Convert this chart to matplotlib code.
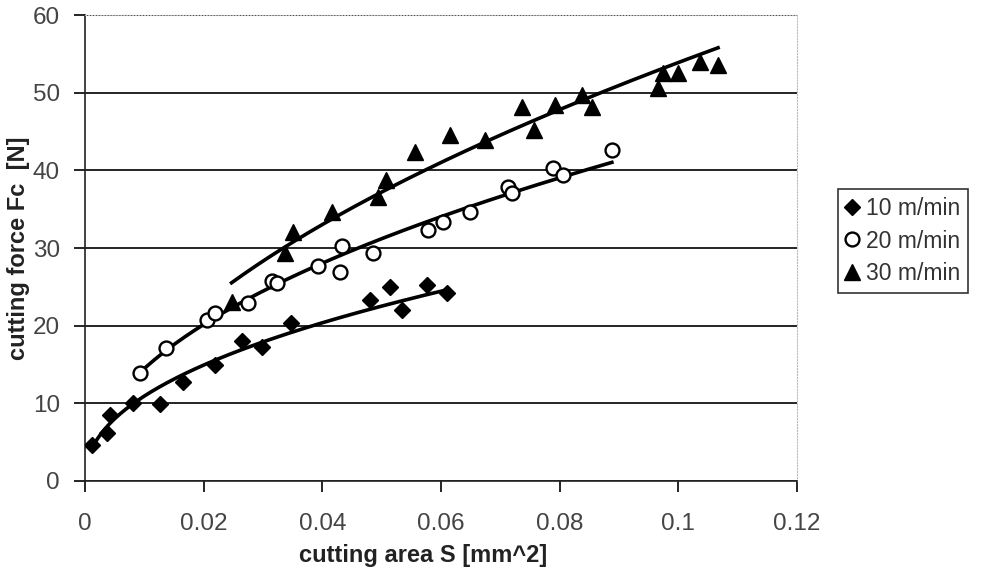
import numpy as np
import matplotlib
matplotlib.use("Agg")
import matplotlib.pyplot as plt

plt.rcParams['font.family'] = ['Liberation Sans', 'DejaVu Sans']

# cutting area S [mm^2] and cutting force Fc [N]
s_10 = [0.0012, 0.0037, 0.0042, 0.0081, 0.0126, 0.0165, 0.0219, 0.0265, 0.0298,
        0.0347, 0.0480, 0.0514, 0.0534, 0.0576, 0.0610]
f_10 = [4.6, 6.2, 8.5, 10.0, 9.9, 12.8, 14.9, 18.0, 17.2,
        20.3, 23.3, 25.0, 22.0, 25.2, 24.2]

s_20 = [0.0093, 0.0137, 0.0205, 0.0219, 0.0275, 0.0315, 0.0323, 0.0393, 0.0433,
        0.0430, 0.0486, 0.0578, 0.0604, 0.0649, 0.0713, 0.0719, 0.0789, 0.0806, 0.0888]
f_20 = [13.9, 17.1, 20.7, 21.6, 22.9, 25.7, 25.5, 27.7, 30.2,
        26.9, 29.3, 32.3, 33.4, 34.7, 37.9, 37.1, 40.3, 39.4, 42.6]

s_30 = [0.0247, 0.0337, 0.0350, 0.0416, 0.0494, 0.0508, 0.0556, 0.0615, 0.0674,
        0.0736, 0.0756, 0.0792, 0.0837, 0.0854, 0.0966, 0.0975, 0.1000, 0.1037, 0.1067]
f_30 = [23.0, 29.3, 32.1, 34.7, 36.6, 38.7, 42.4, 44.5, 43.9,
        48.2, 45.2, 48.4, 49.7, 48.2, 50.6, 52.5, 52.5, 54.0, 53.6]

labels = ['10 m/min', '20 m/min', '30 m/min']
markers = ['D', 'o', '^']

fig = plt.figure(figsize=(9.92, 5.67), dpi=100)
ax = fig.add_axes([0.0857, 0.1517, 0.7177, 0.8218])

for s, f, lab, m in zip([s_10, s_20, s_30], [f_10, f_20, f_30], labels, markers):
    s = np.array(s)
    f = np.array(f)
    if m == 'o':
        ax.plot(s, f, linestyle='none', marker=m, ms=10, mfc='white', mec='black',
                mew=1.7, label=lab, zorder=3)
    elif m == 'D':
        ax.plot(s, f, linestyle='none', marker=m, ms=8.5, color='black', label=lab, zorder=3)
    else:
        ax.plot(s, f, linestyle='none', marker=m, ms=11, color='black', label=lab, zorder=3)
    # power trendline like excel
    b, ln_a = np.polyfit(np.log(s), np.log(f), 1)
    xs = np.linspace(s.min(), s.max(), 200)
    ax.plot(xs, np.exp(ln_a) * xs ** b, color='black', lw=2.6, zorder=2)

ax.set_xlim(0, 0.12)
ax.set_ylim(0, 60)
ax.set_xticks(np.arange(0, 0.121, 0.02))
ax.set_xticklabels(['0', '0.02', '0.04', '0.06', '0.08', '0.1', '0.12'])
ax.set_yticks(np.arange(0, 61, 10))
ax.yaxis.grid(True, color='black', lw=1.2)
ax.set_axisbelow(True)

ax.tick_params(direction='out', length=8, width=1.2, labelsize=17.5, labelcolor='#444444')
ax.tick_params(axis='x', pad=15)
ax.tick_params(axis='y', pad=10)
for side in ['left', 'bottom']:
    ax.spines[side].set_color('#222222')
    ax.spines[side].set_linewidth(1.2)
for side in ['top', 'right']:
    ax.spines[side].set_color('#bbbbbb')
    ax.spines[side].set_linestyle(':')

ax.set_xlabel('cutting area S [mm^2]', fontsize=17, fontweight='bold', color='#222222', labelpad=5)
ax.xaxis.set_label_coords(0.475, -0.135)
ax.set_ylabel('cutting force Fc  [N]', fontsize=17, fontweight='bold', color='#222222', labelpad=2)

leg = ax.legend(loc='center left', bbox_to_anchor=(1.057, 0.515), fontsize=16.5, frameon=True,
                fancybox=False, edgecolor='black', handlelength=0.6, handletextpad=0.3,
                borderpad=0.35, labelspacing=0.4, borderaxespad=0)
leg.get_frame().set_linewidth(1.2)
for t in leg.get_texts():
    t.set_color('#333333')

fig.savefig('out.png', dpi=100)
